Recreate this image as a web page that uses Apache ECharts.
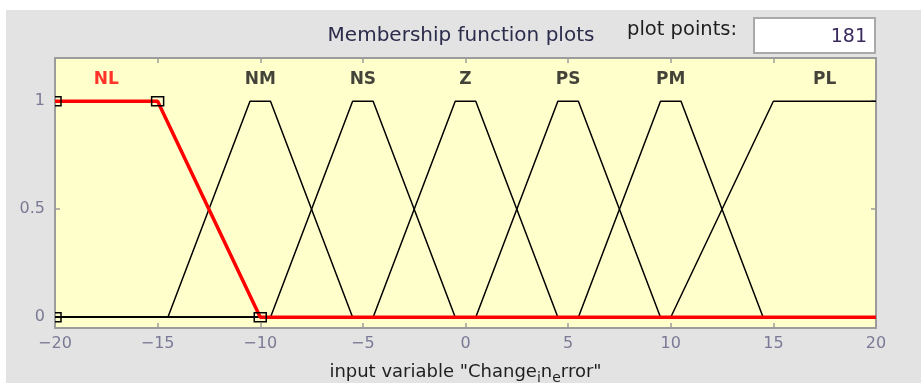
<!DOCTYPE html>
<html>
<head>
<meta charset="utf-8">
<script src="https://cdn.jsdelivr.net/npm/echarts@6/dist/echarts.min.js"></script>
<style>
  html, body { margin: 0; padding: 0; background: #fff; }
  #chart { width: 921px; height: 383px; }
</style>
</head>
<body>
<div id="chart"></div>
<script>
// membership functions of "Change_in_error" (x, degree)
const mfNames = ['NL', 'NM', 'NS', 'Z', 'PS', 'PM', 'PL']
const NL = [[-20, 1], [-15, 1], [-10, 0], [20, 0]]
const NM = [[-20, 0], [-14.5, 0], [-10.5, 1], [-9.5, 1], [-5.5, 0], [20, 0]]
const NS = [[-20, 0], [-9.5, 0], [-5.5, 1], [-4.5, 1], [-0.5, 0], [20, 0]]
const Z = [[-20, 0], [-4.5, 0], [-0.5, 1], [0.5, 1], [4.5, 0], [20, 0]]
const PS = [[-20, 0], [0.5, 0], [4.5, 1], [5.5, 1], [9.5, 0], [20, 0]]
const PM = [[-20, 0], [5.5, 0], [9.5, 1], [10.5, 1], [14.5, 0], [20, 0]]
const PL = [[-20, 0], [10, 0], [15, 1], [20, 1]]
// selected MF (NL) parameter handles
const handles = [[-20, 0], [-20, 1], [-15, 1], [-10, 0]]
// name label positions
const labelX = [-17.5, -10, -5, 0, 5, 10, 17.5]
const labelY = 1.1
const yTicks = [0, 0.5, 1]
const plotPoints = '181'

const chart = echarts.init(document.getElementById('chart'))
const FONT = 'DejaVu Sans'
const TICK = { inside: true, length: 5, lineStyle: { color: '#9c9c9c', width: 1.5 } }
const minus = (v) => (v < 0 ? '\u2212' + -v : String(v))

const blackLine = (name, data) => ({
  name,
  type: 'line',
  data,
  symbol: 'none',
  lineStyle: { color: '#000', width: 1.5 },
  z: 3
})

chart.setOption({
  backgroundColor: '#e3e3e3',
  animation: false,
  graphic: [
    { type: 'rect', shape: { x: 0, y: 0, width: 921, height: 10 }, style: { fill: '#fff' } },
    { type: 'rect', shape: { x: 0, y: 0, width: 6, height: 383 }, style: { fill: '#fff' } },
    {
      type: 'text', x: 461, y: 36,
      style: { text: 'Membership function plots', fill: '#2b2b4b', font: '20px "DejaVu Sans"', align: 'center', verticalAlign: 'middle' }
    },
    {
      type: 'text', x: 627, y: 30,
      style: { text: 'plot points:', fill: '#1e1e1e', font: '19.5px "DejaVu Sans"', align: 'left', verticalAlign: 'middle' }
    },
    {
      type: 'rect', shape: { x: 754, y: 18, width: 121, height: 35 },
      style: { fill: '#fff', stroke: '#a9a9a9', lineWidth: 2 }
    },
    {
      type: 'text', x: 867, y: 37, z: 2,
      style: { text: plotPoints, fill: '#3a2a5e', font: '19px "DejaVu Sans"', align: 'right', verticalAlign: 'middle' }
    }
  ],
  grid: {
    left: 55, right: 45, top: 58, bottom: 55,
    outerBoundsMode: 'none',
    show: true, backgroundColor: '#ffffcc', borderColor: '#9c9c9c', borderWidth: 2
  },
  xAxis: [
    {
      type: 'value', min: -20, max: 20, interval: 5,
      name: 'input variable "Change{s|i}n{s|e}rror"',
      nameLocation: 'middle', nameGap: 31,
      nameTextStyle: {
        color: '#1e1e1e', fontFamily: FONT, fontSize: 18,
        rich: { s: { color: '#1e1e1e', fontFamily: FONT, fontSize: 14, padding: [12, 0, 0, 0] } }
      },
      axisLine: { show: false, onZero: false },
      axisTick: TICK,
      axisLabel: { color: '#7a7a96', fontFamily: FONT, fontSize: 16, margin: 8, formatter: minus },
      splitLine: { show: false }
    },
    {
      type: 'value', position: 'top', min: -20, max: 20, interval: 5,
      axisLine: { show: false, onZero: false },
      axisTick: TICK,
      axisLabel: { show: false },
      splitLine: { show: false }
    }
  ],
  yAxis: [
    {
      type: 'value', min: -0.05, max: 1.2,
      axisLine: { show: false, onZero: false },
      axisTick: { ...TICK, customValues: yTicks },
      axisLabel: { color: '#7a7a96', fontFamily: FONT, fontSize: 16, margin: 10, customValues: yTicks },
      splitLine: { show: false }
    },
    {
      type: 'value', position: 'right', min: -0.05, max: 1.2,
      axisLine: { show: false, onZero: false },
      axisTick: { ...TICK, customValues: yTicks },
      axisLabel: { show: false },
      splitLine: { show: false }
    }
  ],
  series: [
    blackLine('NM', NM),
    blackLine('NS', NS),
    blackLine('Z', Z),
    blackLine('PS', PS),
    blackLine('PM', PM),
    blackLine('PL', PL),
    {
      name: 'NL', type: 'line', data: NL, symbol: 'none',
      lineStyle: { color: '#ff0000', width: 3.5 }, z: 4
    },
    {
      // open square handles, clipped to the plot like the original
      name: 'handles', type: 'custom', data: handles, clip: true, z: 5,
      renderItem: (params, api) => {
        const p = api.coord([api.value(0), api.value(1)])
        return {
          type: 'rect',
          shape: { x: p[0] - 6, y: p[1] - 4.5, width: 12, height: 9 },
          style: { fill: 'none', stroke: '#000', lineWidth: 1.5 }
        }
      }
    },
    {
      name: 'labels', type: 'scatter', symbolSize: 0, z: 5,
      data: mfNames.map((n, i) => ({
        value: [labelX[i], labelY, n],
        label: { color: i === 0 ? '#ff0000' : '#141414' }
      })),
      label: {
        show: true, position: 'inside', fontFamily: FONT, fontSize: 17, fontWeight: 'bold',
        formatter: (p) => p.value[2]
      }
    }
  ]
})
</script>
</body>
</html>
